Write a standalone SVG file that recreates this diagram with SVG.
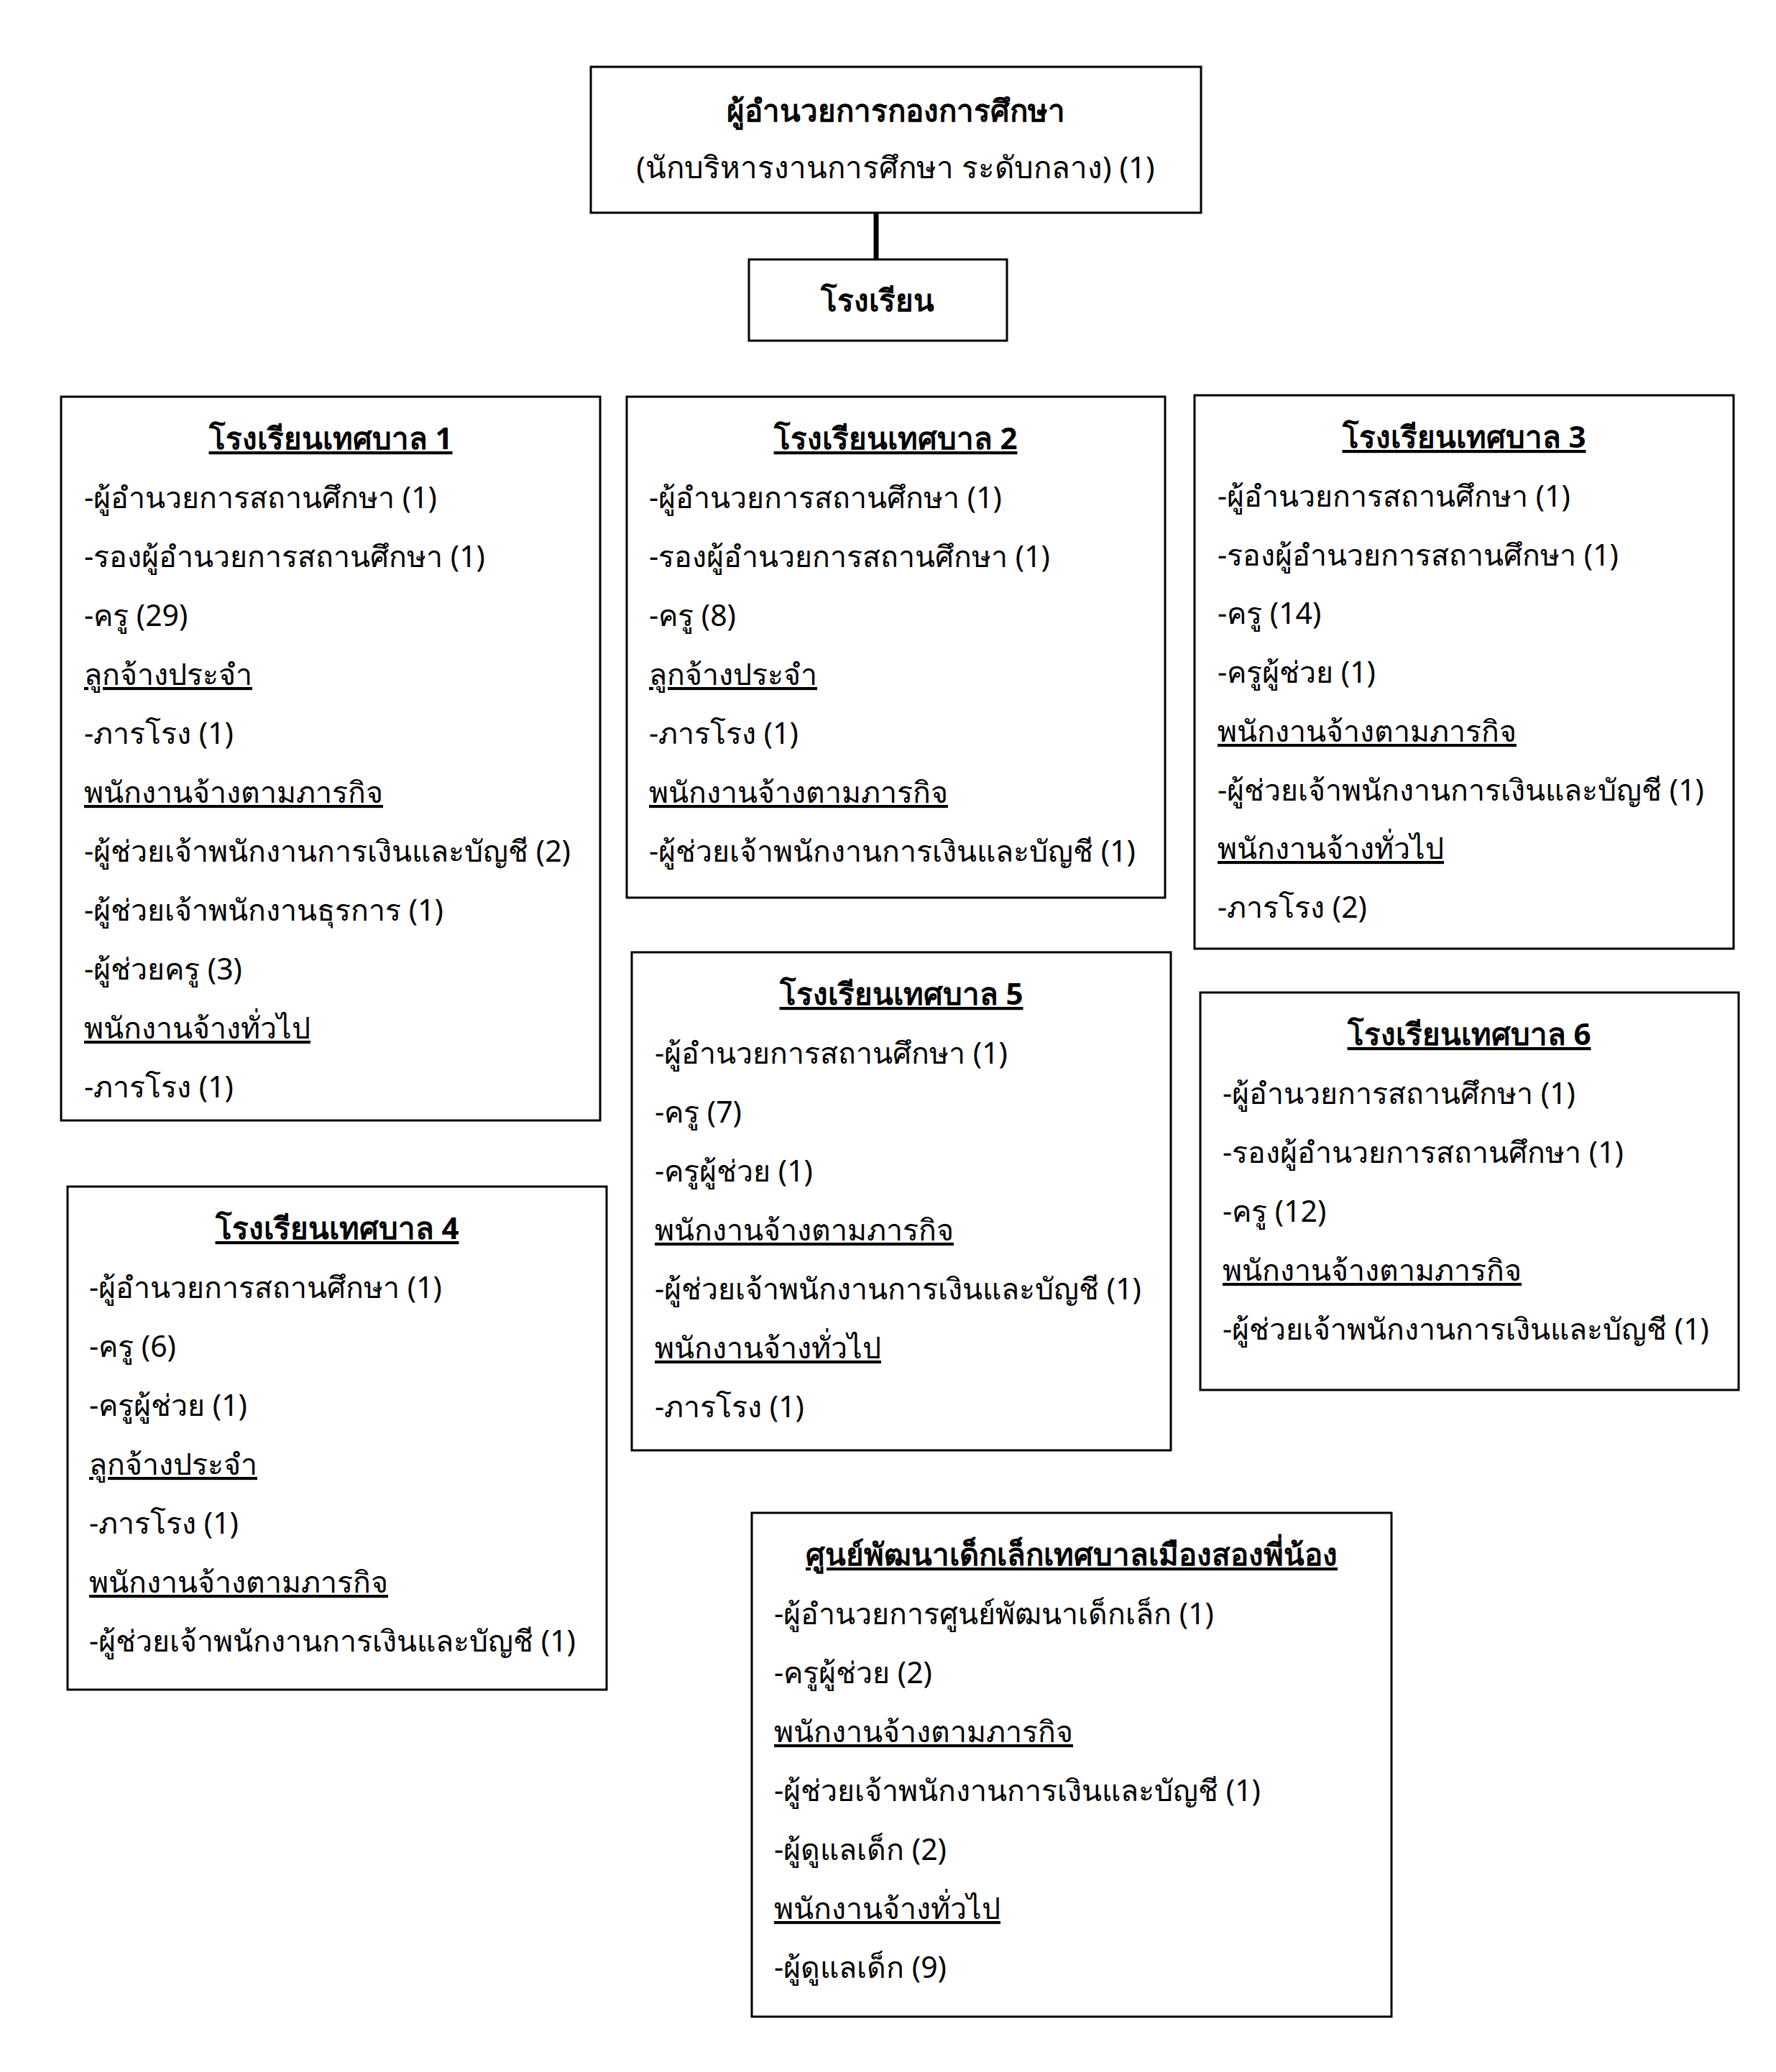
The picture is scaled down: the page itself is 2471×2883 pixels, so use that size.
<svg xmlns="http://www.w3.org/2000/svg" width="2471" height="2883" viewBox="0 0 2471 2883">
<style>
.box{fill:#fff;stroke:#000;stroke-width:3}
text{font-family:"Noto Sans","Liberation Sans",sans-serif;font-size:41px;fill:#000}
.t{font-weight:bold;font-size:42px;text-anchor:middle;text-decoration:underline}
.h{text-decoration:underline}
.b{font-weight:bold;font-size:42px;text-anchor:middle}
.c{font-size:42px;text-anchor:middle}
.conn{stroke:#000;stroke-width:7;fill:none}
</style>
<rect width="2471" height="2883" fill="#fff"/>
<g id="connectors">
<line class="conn" x1="1219" y1="296" x2="1219" y2="361"/>
</g>
<g id="director">
<rect class="box" x="822" y="93" width="849" height="203"/>
<text class="b" x="1246" y="169">ผู้อำนวยการกองการศึกษา</text>
<text class="c" x="1246" y="248">(นักบริหารงานการศึกษา ระดับกลาง) (1)</text>
</g>
<g id="school">
<rect class="box" x="1042" y="361" width="359" height="113"/>
<text class="b" x="1221" y="433">โรงเรียน</text>
</g>
<g id="school1">
<rect class="box" x="85" y="552" width="750" height="1007"/>
<text class="t" x="460" y="625">โรงเรียนเทศบาล 1</text>
<text x="117" y="707">-ผู้อำนวยการสถานศึกษา (1)</text>
<text x="117" y="789">-รองผู้อำนวยการสถานศึกษา (1)</text>
<text x="117" y="871">-ครู (29)</text>
<text class="h" x="117" y="953">ลูกจ้างประจำ</text>
<text x="117" y="1035">-ภารโรง (1)</text>
<text class="h" x="117" y="1117">พนักงานจ้างตามภารกิจ</text>
<text x="117" y="1199">-ผู้ช่วยเจ้าพนักงานการเงินและบัญชี (2)</text>
<text x="117" y="1281">-ผู้ช่วยเจ้าพนักงานธุรการ (1)</text>
<text x="117" y="1363">-ผู้ช่วยครู (3)</text>
<text class="h" x="117" y="1445">พนักงานจ้างทั่วไป</text>
<text x="117" y="1527">-ภารโรง (1)</text>
</g>
<g id="school2">
<rect class="box" x="872" y="552" width="749" height="697"/>
<text class="t" x="1246" y="625">โรงเรียนเทศบาล 2</text>
<text x="903" y="707">-ผู้อำนวยการสถานศึกษา (1)</text>
<text x="903" y="789">-รองผู้อำนวยการสถานศึกษา (1)</text>
<text x="903" y="871">-ครู (8)</text>
<text class="h" x="903" y="953">ลูกจ้างประจำ</text>
<text x="903" y="1035">-ภารโรง (1)</text>
<text class="h" x="903" y="1117">พนักงานจ้างตามภารกิจ</text>
<text x="903" y="1199">-ผู้ช่วยเจ้าพนักงานการเงินและบัญชี (1)</text>
</g>
<g id="school3">
<rect class="box" x="1662" y="550" width="750" height="770"/>
<text class="t" x="2037" y="623">โรงเรียนเทศบาล 3</text>
<text x="1694" y="705">-ผู้อำนวยการสถานศึกษา (1)</text>
<text x="1694" y="787">-รองผู้อำนวยการสถานศึกษา (1)</text>
<text x="1694" y="868">-ครู (14)</text>
<text x="1694" y="950">-ครูผู้ช่วย (1)</text>
<text class="h" x="1694" y="1032">พนักงานจ้างตามภารกิจ</text>
<text x="1694" y="1114">-ผู้ช่วยเจ้าพนักงานการเงินและบัญชี (1)</text>
<text class="h" x="1694" y="1195">พนักงานจ้างทั่วไป</text>
<text x="1694" y="1277">-ภารโรง (2)</text>
</g>
<g id="school5">
<rect class="box" x="879" y="1325" width="750" height="693"/>
<text class="t" x="1254" y="1398">โรงเรียนเทศบาล 5</text>
<text x="911" y="1480">-ผู้อำนวยการสถานศึกษา (1)</text>
<text x="911" y="1562">-ครู (7)</text>
<text x="911" y="1644">-ครูผู้ช่วย (1)</text>
<text class="h" x="911" y="1726">พนักงานจ้างตามภารกิจ</text>
<text x="911" y="1808">-ผู้ช่วยเจ้าพนักงานการเงินและบัญชี (1)</text>
<text class="h" x="911" y="1890">พนักงานจ้างทั่วไป</text>
<text x="911" y="1972">-ภารโรง (1)</text>
</g>
<g id="school6">
<rect class="box" x="1670" y="1381" width="749" height="553"/>
<text class="t" x="2044" y="1454">โรงเรียนเทศบาล 6</text>
<text x="1701" y="1536">-ผู้อำนวยการสถานศึกษา (1)</text>
<text x="1701" y="1618">-รองผู้อำนวยการสถานศึกษา (1)</text>
<text x="1701" y="1700">-ครู (12)</text>
<text class="h" x="1701" y="1782">พนักงานจ้างตามภารกิจ</text>
<text x="1701" y="1864">-ผู้ช่วยเจ้าพนักงานการเงินและบัญชี (1)</text>
</g>
<g id="school4">
<rect class="box" x="94" y="1651" width="750" height="700"/>
<text class="t" x="469" y="1724">โรงเรียนเทศบาล 4</text>
<text x="124" y="1806">-ผู้อำนวยการสถานศึกษา (1)</text>
<text x="124" y="1888">-ครู (6)</text>
<text x="124" y="1970">-ครูผู้ช่วย (1)</text>
<text class="h" x="124" y="2052">ลูกจ้างประจำ</text>
<text x="124" y="2134">-ภารโรง (1)</text>
<text class="h" x="124" y="2216">พนักงานจ้างตามภารกิจ</text>
<text x="124" y="2298">-ผู้ช่วยเจ้าพนักงานการเงินและบัญชี (1)</text>
</g>
<g id="childcenter">
<rect class="box" x="1046" y="2105" width="890" height="701"/>
<text class="t" x="1491" y="2178">ศูนย์พัฒนาเด็กเล็กเทศบาลเมืองสองพี่น้อง</text>
<text x="1077" y="2260">-ผู้อำนวยการศูนย์พัฒนาเด็กเล็ก (1)</text>
<text x="1077" y="2342">-ครูผู้ช่วย (2)</text>
<text class="h" x="1077" y="2424">พนักงานจ้างตามภารกิจ</text>
<text x="1077" y="2506">-ผู้ช่วยเจ้าพนักงานการเงินและบัญชี (1)</text>
<text x="1077" y="2588">-ผู้ดูแลเด็ก (2)</text>
<text class="h" x="1077" y="2670">พนักงานจ้างทั่วไป</text>
<text x="1077" y="2752">-ผู้ดูแลเด็ก (9)</text>
</g>
</svg>
